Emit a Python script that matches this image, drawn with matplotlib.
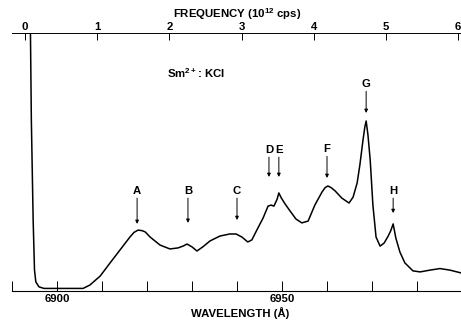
import numpy as np
import matplotlib
matplotlib.use("Agg")
import matplotlib.pyplot as plt

plt.rcParams['font.family'] = ['Liberation Sans', 'DejaVu Sans']
plt.rcParams['font.weight'] = 'bold'
plt.rcParams['mathtext.fontset'] = 'custom'
plt.rcParams['mathtext.rm'] = 'Liberation Sans:bold'
plt.rcParams['mathtext.default'] = 'rm'

# Espectro Sm2+ : KCl (intensidad relativa, unidades arbitrarias)
wavelength = [6894.1, 6894.3, 6894.7, 6895.0, 6895.3, 6896.0, 6897.1, 6905.8,
              6907.3, 6909.6, 6911.8, 6914.0, 6916.2, 6917.1, 6918.0, 6918.9,
              6919.6, 6920.7, 6922.9, 6925.1, 6926.9, 6928.0, 6928.9, 6930.0,
              6931.1, 6932.4, 6934.0, 6936.2, 6938.4, 6939.8, 6941.1, 6942.4,
              6943.3, 6944.4, 6945.8, 6946.9, 6947.6, 6948.2, 6948.9, 6949.3,
              6949.8, 6950.7, 6951.8, 6953.1, 6954.4, 6955.8, 6957.3, 6958.9,
              6959.6, 6960.2, 6960.9, 6961.8, 6963.3, 6964.9, 6965.8, 6966.7,
              6967.3, 6968.0, 6968.4, 6968.7, 6969.1, 6969.6, 6970.2, 6970.9,
              6971.8, 6972.7, 6973.6, 6974.2, 6974.7, 6975.3, 6976.2, 6977.3,
              6979.1, 6980.7, 6982.9, 6985.1, 6987.3, 6989.8]
intensity = [100.0, 66.3, 27.5, 8.1, 3.5, 1.6, 1.0, 1.0,
             2.3, 5.8, 10.9, 15.9, 20.9, 22.7, 23.6, 23.4,
             22.9, 20.9, 17.8, 16.3, 16.7, 17.4, 18.2, 17.1,
             15.5, 17.1, 19.4, 21.3, 22.1, 22.1, 20.9, 19.0,
             19.8, 23.6, 28.3, 32.9, 33.3, 32.9, 35.5, 38.0,
             36.2, 33.7, 31.0, 27.9, 26.4, 27.1, 33.3, 38.4,
             40.1, 40.7, 40.1, 38.8, 36.0, 34.1, 36.4, 41.9,
             48.8, 58.5, 63.5, 65.9, 60.5, 50.8, 33.3, 20.9,
             17.4, 18.6, 21.3, 23.5, 26.0, 20.5, 15.1, 10.9,
             7.8, 7.4, 8.1, 8.7, 8.1, 7.0]

# Bandas marcadas: etiqueta, longitud de onda, altura de la etiqueta, punta de la flecha
peak_labels = ['A', 'B', 'C', 'D', 'E', 'F', 'G', 'H']
peak_wl = [6917.8, 6929.1, 6940.0, 6947.1, 6949.3, 6960.0, 6968.7, 6974.7]
label_y = [38.8, 38.8, 38.8, 54.7, 54.7, 55.0, 80.2, 38.8]
tip_y = [26.0, 26.4, 27.5, 44.2, 44.2, 43.8, 69.0, 30.2]

wl_ticks = np.arange(6890, 6990, 10)
wl_ticklabels = ['6900' if t == 6900 else '6950' if t == 6950 else '' for t in wl_ticks]
freq_ticks = [0, 1, 2, 3, 4, 5, 6]

lam0 = 6892.89      # frecuencia cero
dlam = 16.04        # Angstrom por 10^12 cps


def lam2f(x):
    return (np.asarray(x) - lam0) / dlam


def f2lam(f):
    return np.asarray(f) * dlam + lam0


fs = 8.2

fig = plt.figure(figsize=(4.61, 3.22), dpi=100)
ax = fig.add_axes([12/461, 31/322, 450/461, 258/322])

ax.plot(wavelength, intensity, color='k', lw=1.1)

for lab, x, ly, ty in zip(peak_labels, peak_wl, label_y, tip_y):
    ax.annotate('', xy=(x, ty), xytext=(x, ly - 2.8),
                arrowprops=dict(arrowstyle='-|>', lw=0.7, color='k',
                                mutation_scale=5, shrinkA=0, shrinkB=0))
    ax.text(x, ly, lab, ha='center', va='center', fontsize=fs, fontweight='bold')

ax.text(6924.4, 84.5, 'Sm$^{2+}$: KCl', ha='left', va='center', fontsize=fs)

ax.set_xlim(6890, 6990)
ax.set_ylim(0, 100)
ax.spines['left'].set_visible(False)
ax.spines['right'].set_visible(False)
ax.spines['top'].set_visible(False)
ax.spines['bottom'].set_linewidth(0.8)
ax.set_yticks([])
ax.set_xticks(wl_ticks)
ax.set_xticklabels(wl_ticklabels)
ax.tick_params(axis='x', direction='in', length=7, width=0.7, pad=2, labelsize=fs)
ax.set_xlabel('WAVELENGTH (Å)', fontsize=fs, fontweight='bold', va='center')
ax.xaxis.set_label_coords(0.508, -0.086)

sec = ax.secondary_xaxis('top', functions=(lam2f, f2lam))
sec.set_xticks(freq_ticks)
sec.spines['top'].set_linewidth(0.7)
sec.tick_params(direction='in', length=5, width=0.7, pad=0.5, labelsize=fs)
sec.set_xlabel('FREQUENCY (10$^{12}$ cps)', fontsize=fs, fontweight='bold', labelpad=3)

fig.savefig('out.png', dpi=100)
